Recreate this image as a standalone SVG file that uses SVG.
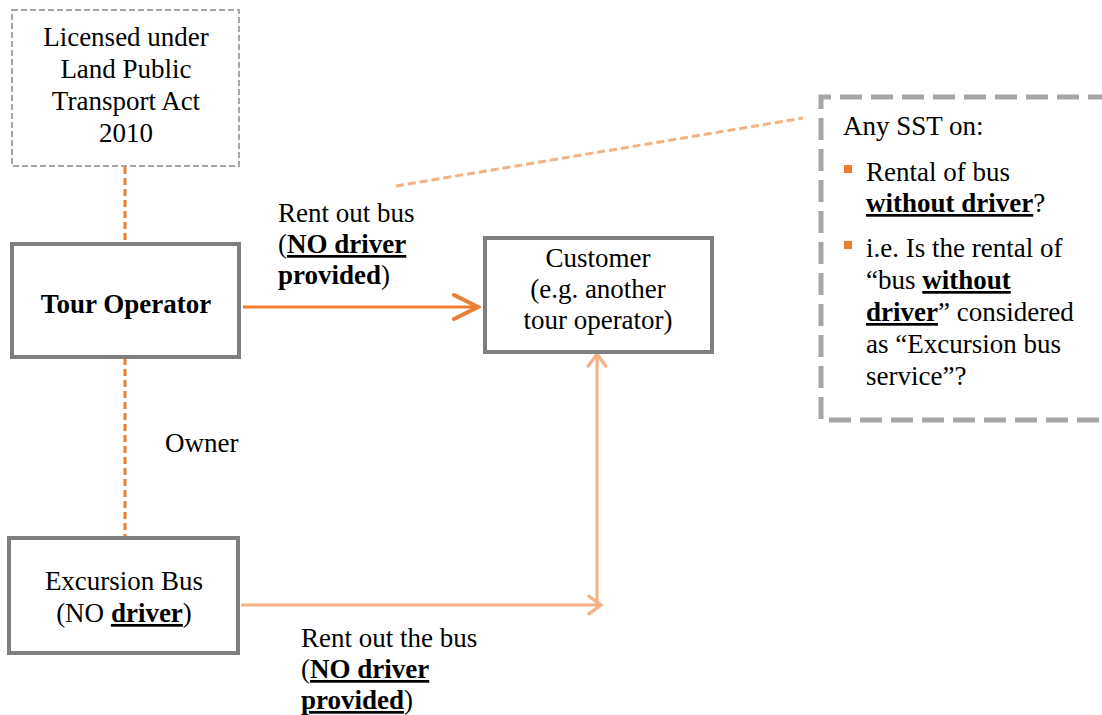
<svg xmlns="http://www.w3.org/2000/svg" width="1102" height="715" viewBox="0 0 1102 715">
<defs>
<marker id="alo" viewBox="0 0 20 20" refX="17" refY="10" markerWidth="22" markerHeight="22" markerUnits="userSpaceOnUse" orient="auto">
<path d="M6,2 L17,10 L6,18" fill="none" stroke="#f4b183" stroke-width="3" stroke-linecap="round"/>
</marker>
<marker id="ao2" viewBox="0 0 30 30" refX="27" refY="15" markerWidth="30" markerHeight="30" markerUnits="userSpaceOnUse" orient="auto">
<path d="M3,3 L27,15 L3,27" fill="none" stroke="#ed7d31" stroke-width="4" stroke-linecap="round"/>
</marker>
</defs>
<g id="connectors" fill="none">
<line stroke="#ed7d31" stroke-width="3" x1="125" y1="167" x2="125" y2="243" stroke-dasharray="7 4"/>
<line stroke="#ed7d31" stroke-width="3" x1="125" y1="358" x2="125" y2="537" stroke-dasharray="7 4"/>
<line stroke="#ed7d31" stroke-width="3" x1="243" y1="307" x2="478" y2="307" marker-end="url(#ao2)"/>
<line stroke="#f4b183" stroke-width="3" x1="241" y1="605" x2="601" y2="605" marker-end="url(#alo)"/>
<line stroke="#f4b183" stroke-width="3" x1="597" y1="605" x2="597" y2="354" marker-end="url(#alo)"/>
<line stroke="#f4b183" stroke-width="3" x1="396" y1="186" x2="803" y2="118" stroke-dasharray="8 4"/>
</g>
<g id="licensed">
<rect fill="#fff" stroke="#a6a6a6" stroke-width="2" stroke-dasharray="6 3" x="12" y="10" width="227" height="156"/>
<text style="font-family:'Liberation Serif',serif" font-size="27" text-anchor="middle" x="126" y="46">Licensed under</text>
<text style="font-family:'Liberation Serif',serif" font-size="27" text-anchor="middle" x="126" y="78">Land Public</text>
<text style="font-family:'Liberation Serif',serif" font-size="27" text-anchor="middle" x="126" y="110">Transport Act</text>
<text style="font-family:'Liberation Serif',serif" font-size="27" text-anchor="middle" x="126" y="142">2010</text>
</g>
<g id="tour-operator">
<rect fill="#fff" stroke="#7f7f7f" stroke-width="4" x="12" y="244" width="227" height="113"/>
<text style="font-family:'Liberation Serif',serif" font-size="27" font-weight="bold" text-anchor="middle" x="126" y="313">Tour Operator</text>
</g>
<g id="customer">
<rect fill="#fff" stroke="#7f7f7f" stroke-width="4" x="485" y="238" width="227" height="114"/>
<text style="font-family:'Liberation Serif',serif" font-size="27" text-anchor="middle" x="598" y="267">Customer</text>
<text style="font-family:'Liberation Serif',serif" font-size="27" text-anchor="middle" x="598" y="298">(e.g. another</text>
<text style="font-family:'Liberation Serif',serif" font-size="27" text-anchor="middle" x="598" y="329">tour operator)</text>
</g>
<g id="excursion-bus">
<rect fill="#fff" stroke="#7f7f7f" stroke-width="4" x="9" y="538" width="229" height="115"/>
<text style="font-family:'Liberation Serif',serif" font-size="27" text-anchor="middle" x="124" y="590">Excursion Bus</text>
<text style="font-family:'Liberation Serif',serif" font-size="27" text-anchor="middle" x="124" y="622">(NO <tspan font-weight="bold" text-decoration="underline">driver</tspan>)</text>
</g>
<g id="label-rent-top">
<text style="font-family:'Liberation Serif',serif" font-size="27" x="278" y="222">Rent out bus</text>
<text style="font-family:'Liberation Serif',serif" font-size="27" x="278" y="253">(<tspan font-weight="bold" text-decoration="underline">NO driver</tspan></text>
<text style="font-family:'Liberation Serif',serif" font-size="27" x="278" y="284"><tspan font-weight="bold">provided</tspan>)</text>
</g>
<g id="label-owner">
<text style="font-family:'Liberation Serif',serif" font-size="27" x="165" y="452">Owner</text>
</g>
<g id="label-rent-bottom">
<text style="font-family:'Liberation Serif',serif" font-size="27" x="301" y="647">Rent out the bus</text>
<text style="font-family:'Liberation Serif',serif" font-size="27" x="301" y="678">(<tspan font-weight="bold" text-decoration="underline">NO driver</tspan></text>
<text style="font-family:'Liberation Serif',serif" font-size="27" x="301" y="709"><tspan font-weight="bold" text-decoration="underline">provided</tspan>)</text>
</g>
<g id="sst-note">
<path fill="#fff" stroke="#a6a6a6" stroke-width="5" stroke-dasharray="22 9" d="M1110,97 L821,97 L821,420 L1110,420"/>
<text style="font-family:'Liberation Serif',serif" font-size="27" x="843" y="135">Any SST on:</text>
<rect x="844" y="165" width="8" height="8" fill="#ed7d31"/>
<text style="font-family:'Liberation Serif',serif" font-size="27" x="866" y="181">Rental of bus</text>
<text style="font-family:'Liberation Serif',serif" font-size="27" x="866" y="212"><tspan font-weight="bold" text-decoration="underline">without driver</tspan>?</text>
<rect x="844" y="241" width="8" height="8" fill="#ed7d31"/>
<text style="font-family:'Liberation Serif',serif" font-size="27" x="866" y="257">i.e. Is the rental of</text>
<text style="font-family:'Liberation Serif',serif" font-size="27" x="866" y="289">“bus <tspan font-weight="bold" text-decoration="underline">without</tspan></text>
<text style="font-family:'Liberation Serif',serif" font-size="27" x="866" y="321"><tspan font-weight="bold" text-decoration="underline">driver</tspan>” considered</text>
<text style="font-family:'Liberation Serif',serif" font-size="27" x="866" y="353">as “Excursion bus</text>
<text style="font-family:'Liberation Serif',serif" font-size="27" x="866" y="385">service”?</text>
</g>
</svg>
